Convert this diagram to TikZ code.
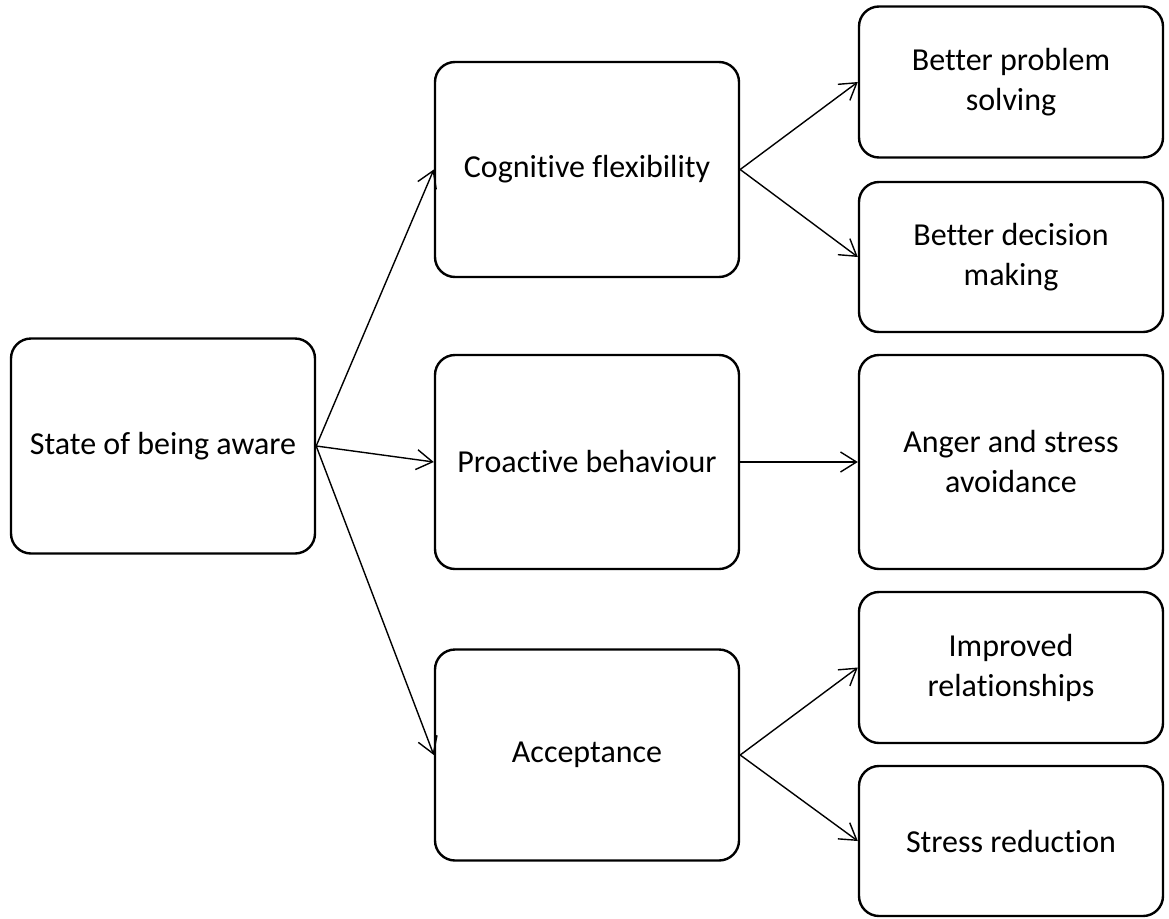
\documentclass[tikz,border=0pt]{standalone}
\usepackage{fontspec}
\setmainfont{Carlito}[Ligatures={NoCommon}]
\usetikzlibrary{arrows.meta}
\begin{document}
\begin{tikzpicture}[x=1pt,y=-1pt,
  box/.style={draw, line width=2.4pt, rounded corners=20pt, align=center,
    inner sep=0pt, font=\fontsize{32}{40}\selectfont},
  link/.style={line width=1.4pt, -{Straight Barb[length=16pt,width=20pt,line width=1.4pt]}}]
\useasboundingbox (0,0) rectangle (1169,918);
% root
\node[box, minimum width=304pt, minimum height=215pt] (aware) at (163,446) {State of being aware};
% middle column
\node[box, minimum width=304pt, minimum height=215pt] (cog) at (587,169.5) {Cognitive flexibility};
\node[box, minimum width=304pt, minimum height=214pt] (pro) at (587,462) {Proactive behaviour};
\node[box, minimum width=304pt, minimum height=211pt] (acc) at (587,755) {Acceptance};
% right column
\node[box, minimum width=304pt, minimum height=151pt] (solve) at (1011,82) {Better problem\\solving};
\node[box, minimum width=304pt, minimum height=150pt] (decide) at (1011,257) {Better decision\\making};
\node[box, minimum width=304pt, minimum height=214pt] (anger) at (1011,462) {Anger and stress\\avoidance};
\node[box, minimum width=304pt, minimum height=151pt] (rel) at (1011,667.5) {Improved\\relationships};
\node[box, minimum width=304pt, minimum height=150pt] (red) at (1011,841) {Stress reduction};
% connectors
\draw[link] (aware.east) -- (cog.west);
\draw[link] (aware.east) -- (pro.west);
\draw[link] (aware.east) -- (acc.west);
\draw[link] (cog.east) -- (solve.west);
\draw[link] (cog.east) -- (decide.west);
\draw[link] (pro.east) -- (anger.west);
\draw[link] (acc.east) -- (rel.west);
\draw[link] (acc.east) -- (red.west);
\end{tikzpicture}
\end{document}
